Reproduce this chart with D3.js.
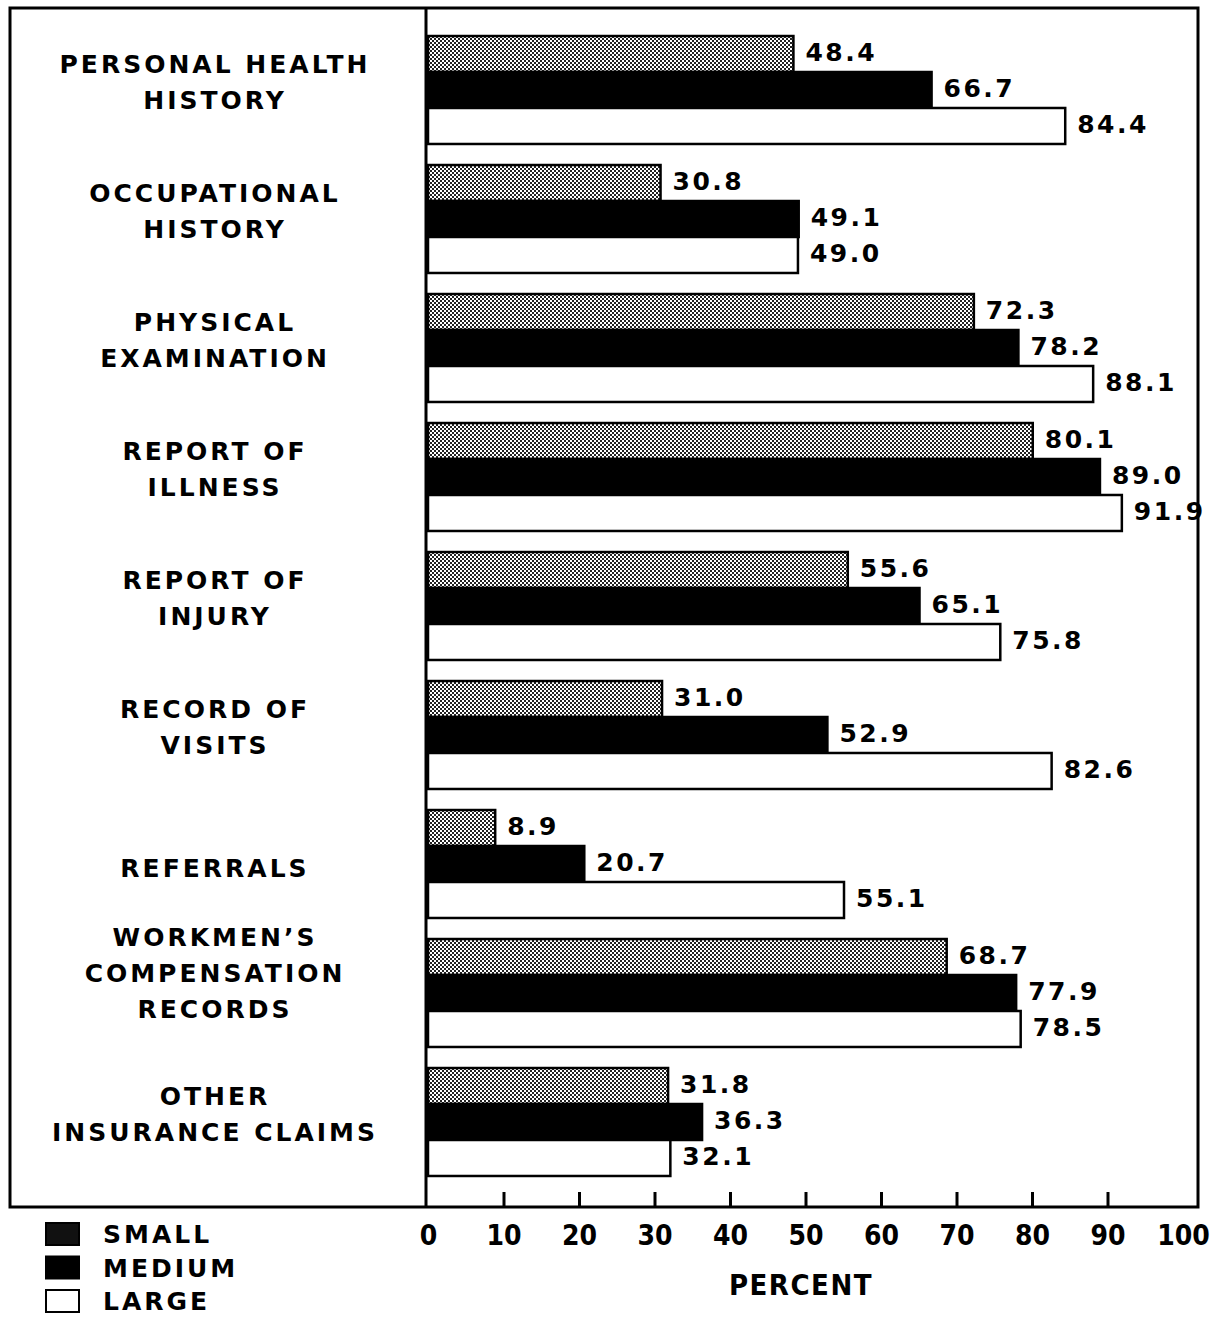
<!DOCTYPE html>
<html><head><meta charset="utf-8">
<script src="https://cdn.jsdelivr.net/npm/d3@7"></script>
<style>
body{margin:0;background:#fff;}
svg{display:block;}
.lbl{font-family:"DejaVu Sans",sans-serif;font-weight:bold;font-size:25px;letter-spacing:3px;fill:#000;}
.val{font-family:"DejaVu Sans",sans-serif;font-weight:bold;font-size:25px;letter-spacing:2.5px;fill:#000;}
.tick text{font-family:"Liberation Sans Narrow","DejaVu Sans Condensed",sans-serif;font-weight:bold;font-size:28px;fill:#000;}
</style></head>
<body>
<script>
const categories = [
  ["PERSONAL HEALTH","HISTORY"],
  ["OCCUPATIONAL","HISTORY"],
  ["PHYSICAL","EXAMINATION"],
  ["REPORT OF","ILLNESS"],
  ["REPORT OF","INJURY"],
  ["RECORD OF","VISITS"],
  ["REFERRALS"],
  ["WORKMEN’S","COMPENSATION","RECORDS"],
  ["OTHER","INSURANCE CLAIMS"]
];
const seriesNames = ["SMALL","MEDIUM","LARGE"];
const small  = [48.4, 30.8, 72.3, 80.1, 55.6, 31.0, 8.9, 68.7, 31.8];
const medium = [66.7, 49.1, 78.2, 89.0, 65.1, 52.9, 20.7, 77.9, 36.3];
const large  = [84.4, 49.0, 88.1, 91.9, 75.8, 82.6, 55.1, 78.5, 32.1];
const tickValues = [0,10,20,30,40,50,60,70,80,90,100];
const axisTitle = "PERCENT";

const W = 1227, H = 1317;
const svg = d3.select("body").append("svg").attr("width", W).attr("height", H);

const defs = svg.append("defs");
const pat = defs.append("pattern").attr("id","dots").attr("patternUnits","userSpaceOnUse")
  .attr("width",4).attr("height",4);
pat.append("rect").attr("width",4).attr("height",4).attr("fill","#fff");
pat.append("rect").attr("x",0).attr("y",0).attr("width",2).attr("height",2).attr("fill","#222");
pat.append("rect").attr("x",2).attr("y",2).attr("width",2).attr("height",2).attr("fill","#222");

const fills = ["url(#dots)", "#000", "#fff"];
const seriesVals = [small, medium, large];

const x = d3.scaleLinear().domain([0,100]).range([428, 1183]);
const idx = d3.range(categories.length);
const y = d3.scaleBand().domain(idx).range([25.5, 1186.5]).paddingInner(0.163).paddingOuter(0.0815);
const ySub = d3.scaleBand().domain(d3.range(3)).range([0, y.bandwidth()]);

// frame
const frameL = 10, frameT = 8, frameR = 1198, frameB = 1207, divX = 426;
svg.append("rect").attr("x",frameL).attr("y",frameT).attr("width",frameR-frameL).attr("height",frameB-frameT)
  .attr("fill","none").attr("stroke","#000").attr("stroke-width",3);
svg.append("line").attr("x1",divX).attr("x2",divX).attr("y1",frameT).attr("y2",frameB)
  .attr("stroke","#000").attr("stroke-width",3);

// bars
const g = svg.append("g");
idx.forEach(i => {
  seriesVals.forEach((vals, s) => {
    const v = vals[i];
    const by = y(i) + ySub(s);
    g.append("rect").attr("x", x(0)).attr("y", by)
      .attr("width", x(v) - x(0)).attr("height", ySub.bandwidth())
      .attr("fill", fills[s]).attr("stroke","#000").attr("stroke-width",2.5);
    g.append("text").attr("class","val")
      .attr("x", x(v) + 12).attr("y", by + ySub.bandwidth()/2 - 2)
      .attr("dy","0.36em").text(v.toFixed(1));
  });
});

// category labels
const lineH = 36;
categories.forEach((lines, i) => {
  const n = lines.length;
  const cy = y(i) + y.bandwidth()/2 + 4 - 12*(n-1);
  const t = svg.append("text").attr("class","lbl").attr("text-anchor","middle");
  lines.forEach((ln, k) => {
    t.append("tspan").attr("x", 215)
      .attr("y", cy + (k - (n-1)/2)*lineH).attr("dy","0.36em").text(ln);
  });
});

// axis
const axis = d3.axisBottom(x).tickValues(tickValues).tickSizeInner(-15).tickSizeOuter(0).tickPadding(18)
  .tickFormat(d3.format("d"));
const ag = svg.append("g").attr("transform", `translate(0,${frameB})`).call(axis);
ag.select(".domain").remove();
ag.selectAll(".tick line").attr("stroke","#000").attr("stroke-width",3);
ag.selectAll(".tick").filter(d => d === 0 || d === 100).select("line").remove();

svg.append("text").attr("x", 801).attr("y", 1285).attr("dy","0.36em").attr("text-anchor","middle")
  .style("font-family",'"Liberation Sans Narrow","DejaVu Sans Condensed",sans-serif')
  .style("font-weight","bold").style("font-size","29px").style("letter-spacing","1.5px").text(axisTitle);

// legend
const legFills = ["#111", "#000", "#fff"];
seriesNames.forEach((name, s) => {
  const ly = 1234 + s*33.5;
  svg.append("rect").attr("x", 46).attr("y", ly - 11).attr("width", 33).attr("height", 22)
    .attr("fill", legFills[s]).attr("stroke","#000").attr("stroke-width",2);
  svg.append("text").attr("class","lbl").attr("x", 103).attr("y", ly).attr("dy","0.36em").text(name);
});
</script>
</body></html>
